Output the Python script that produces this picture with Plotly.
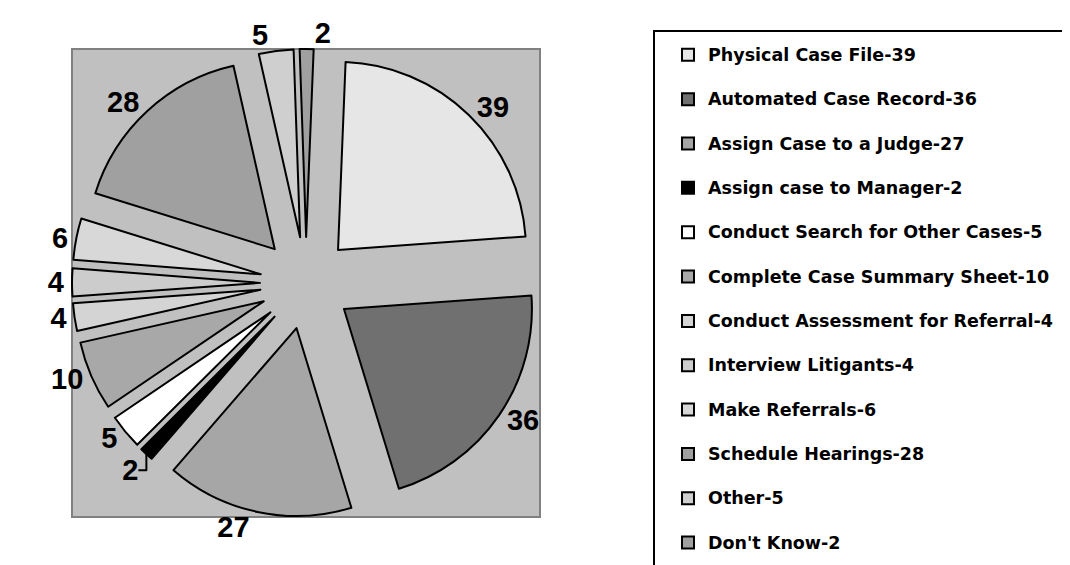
import plotly.graph_objects as go

# ---- data ----
categories = ["Physical Case File", "Automated Case Record", "Assign Case to a Judge",
              "Assign case to Manager", "Conduct Search for Other Cases",
              "Complete Case Summary Sheet", "Conduct Assessment for Referral",
              "Interview Litigants", "Make Referrals", "Schedule Hearings", "Other",
              "Don't Know"]
values = [39, 36, 27, 2, 5, 10, 4, 4, 6, 28, 5, 2]
slice_colors = ["#E6E6E6", "#707070", "#A6A6A6", "#000000", "#FFFFFF", "#A8A8A8",
                "#D4D4D4", "#CCCCCC", "#D8D8D8", "#A0A0A0", "#CFCFCF", "#A0A0A0"]

W, H = 1070, 565
OFF = 8  # page body margin
PL, PT, PR, PB = 72, 49, 540, 517  # grey plot box in window px

legend_labels = [f"<span style='font-size:17.5px'>{c}-{v}</span><br> "
                 for c, v in zip(categories, values)]

def fx(px):
    return (px - OFF) / W

def fy(py):
    return 1 - (py - OFF) / H

fig = go.Figure(go.Pie(
    labels=legend_labels,
    values=values,
    sort=False,
    direction="clockwise",
    rotation=2.3,
    pull=[0.245] * len(values),
    domain=dict(x=[fx(PL), fx(PR)], y=[fy(PB), fy(PT)]),
    marker=dict(colors=slice_colors, line=dict(color="#000000", width=2)),
    texttemplate="%{value}",
    textposition="outside",
    textfont=dict(family="Liberation Sans, Arial, sans-serif", size=29,
                  color="#000000", weight="bold"),
    hovertemplate="%{label}<extra></extra>",
    showlegend=True,
))

fig.update_layout(
    width=W, height=H,
    margin=dict(l=0, r=0, t=0, b=0, pad=0, autoexpand=False),
    paper_bgcolor="#FFFFFF",
    showlegend=True,
    legend=dict(
        x=fx(668), y=fy(38), xanchor="left", yanchor="top",
        bgcolor="rgba(0,0,0,0)", borderwidth=0,
        font=dict(family="DejaVu Sans, Liberation Sans, sans-serif", size=15.9,
                  color="#000000", weight="bold"),
        valign="top",
        maxheight=700,
    ),
    shapes=[
        dict(type="rect", xref="paper", yref="paper", x0=fx(PL), x1=fx(PR),
             y0=fy(PB), y1=fy(PT),
             fillcolor="#C0C0C0", line=dict(color="#808080", width=2), layer="below"),
        dict(type="rect", xref="paper", yref="paper", x0=fx(654), x1=fx(1095),
             y0=fy(600), y1=fy(31), fillcolor="rgba(0,0,0,0)",
             line=dict(color="#000000", width=2), layer="below"),
    ],
)

fig.write_html("out.html")
